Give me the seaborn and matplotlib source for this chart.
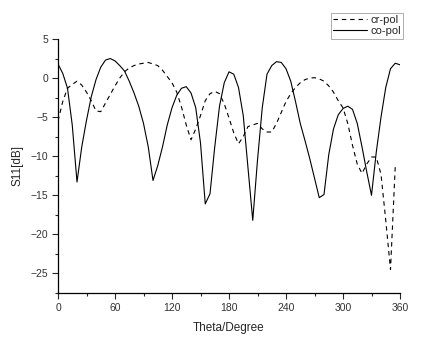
import numpy as np
import pandas as pd
import matplotlib
matplotlib.use("Agg")
import matplotlib.pyplot as plt
import seaborn as sns
from matplotlib.ticker import MultipleLocator

theta_co = list(range(0, 361, 5))
co_pol = [1.8, 0.6, -1.3, -6.0, -13.3, -8.8, -5.4, -2.4, -0.2, 1.4,
          2.3, 2.5, 2.2, 1.6, 0.9, -0.4, -1.9, -3.6, -5.8, -8.8,
          -13.1, -11.2, -8.8, -6.0, -3.8, -2.2, -1.3, -1.1, -1.9, -3.8,
          -8.3, -16.1, -14.8, -8.8, -3.6, -0.6, 0.8, 0.5, -1.2, -4.8,
          -11.5, -18.2, -10.5, -3.8, 0.5, 1.6, 2.1, 2.0, 1.2, -0.4,
          -3.0, -5.8, -8.0, -10.3, -12.8, -15.3, -14.9, -9.8, -6.5, -4.7,
          -3.9, -3.6, -4.0, -5.8, -8.8, -12.0, -15.0, -9.5, -5.0, -1.2,
          1.2, 1.9, 1.7]

theta_cr = list(range(0, 356, 5))
cr_pol = [-5.5, -3.0, -1.3, -0.8, -0.4, -0.9, -1.8, -2.9, -4.2, -4.3,
          -3.2, -2.1, -1.0, 0.0, 0.8, 1.3, 1.6, 1.8, 1.9, 2.0,
          1.8, 1.6, 1.0, 0.2, -0.6, -1.8, -3.7, -6.0, -7.9, -6.5,
          -4.8, -2.9, -2.0, -1.7, -2.0, -3.3, -5.1, -7.0, -8.4, -7.5,
          -6.2, -6.0, -5.8, -6.5, -6.9, -6.9, -5.8, -4.4, -3.0, -2.0,
          -1.2, -0.6, -0.2, 0.0, 0.05, -0.1, -0.4, -1.0, -1.8, -2.9,
          -3.8, -5.8, -8.6, -11.0, -12.2, -11.0, -10.1, -10.1, -12.3, -18.2,
          -24.5, -11.3]

x_ticks = [0, 60, 120, 180, 240, 300, 360]
y_ticks = [-25, -20, -15, -10, -5, 0, 5]

sns.set_theme(style="ticks")
plt.rcParams['font.family'] = ['Liberation Sans', 'DejaVu Sans']

fig = plt.figure(figsize=(4.38, 3.39), dpi=100)
ax = fig.add_axes([58/438, 1-293/339, (400-58)/438, (293-39)/339])

df_cr = pd.DataFrame({"theta": theta_cr, "val": cr_pol})
df_co = pd.DataFrame({"theta": theta_co, "val": co_pol})

sns.lineplot(data=df_cr, x="theta", y="val", ax=ax, color="black", lw=0.8,
             linestyle=(0, (4, 3.5)), label="cr-pol")
sns.lineplot(data=df_co, x="theta", y="val", ax=ax, color="black", lw=0.8,
             label="co-pol")

ax.set_xlim(0, 360)
ax.set_ylim(-27.5, 5)
ax.set_xticks(x_ticks)
ax.set_yticks(y_ticks)
ax.xaxis.set_minor_locator(MultipleLocator(30))
ax.yaxis.set_minor_locator(MultipleLocator(2.5))
ax.tick_params(which="major", length=4, width=0.8, labelsize=7.5,
               labelcolor="#333333", direction="out", pad=3)
ax.tick_params(which="minor", length=2.5, width=0.8, direction="out")
for s in ["top", "right"]:
    ax.spines[s].set_visible(False)
for s in ["left", "bottom"]:
    ax.spines[s].set_linewidth(0.9)
    ax.spines[s].set_color("black")

ax.set_xlabel("Theta/Degree", fontsize=8.5, labelpad=7)
ax.set_ylabel("S11[dB]", fontsize=8.5, labelpad=5)

leg = ax.legend(loc="upper right", bbox_to_anchor=(403/438, 1-13/339),
                bbox_transform=fig.transFigure, borderaxespad=0,
                fontsize=8, frameon=True, fancybox=False, handlelength=3.0,
                handletextpad=0.3, borderpad=0.2, labelspacing=0.1)
leg.get_frame().set_edgecolor("#888888")
leg.get_frame().set_linewidth(0.6)

fig.savefig("out.png", dpi=100)
